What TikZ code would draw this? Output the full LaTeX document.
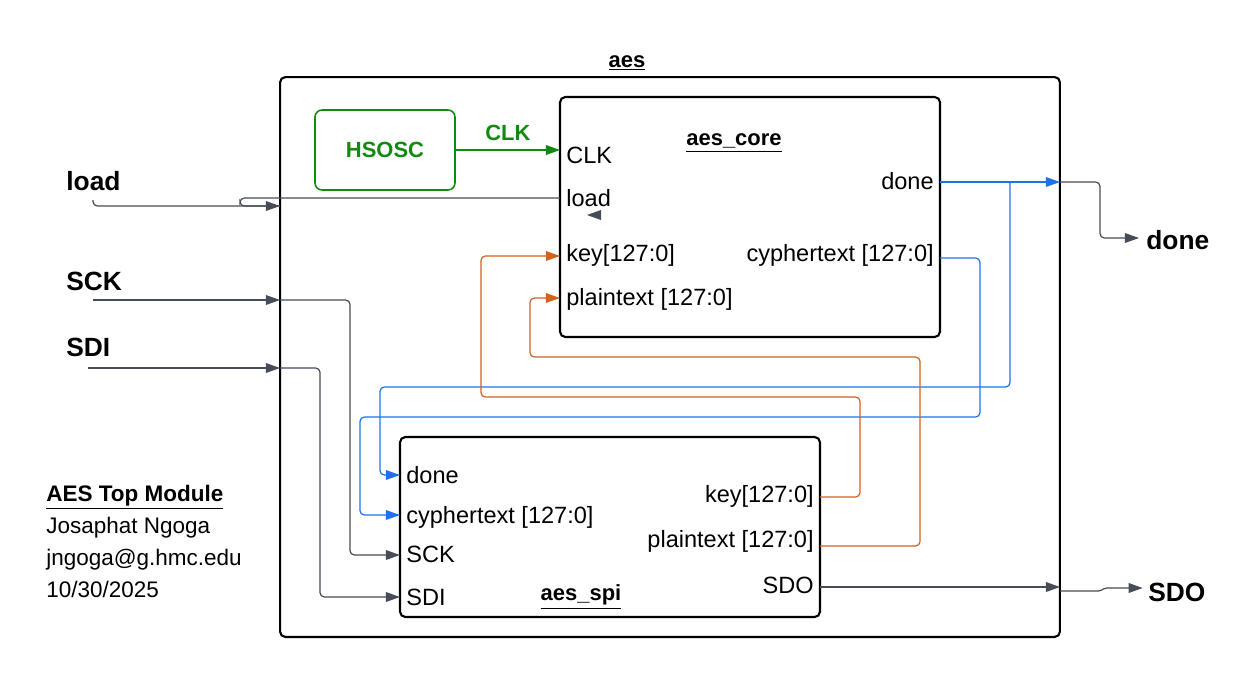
\documentclass[tikz,border=0pt]{standalone}
\usepackage{fontspec}
\setmainfont{Liberation Sans}
\usetikzlibrary{arrows.meta}

\definecolor{wiregray}{RGB}{70,76,88}
\definecolor{clkgreen}{RGB}{16,138,16}
\definecolor{busblue}{RGB}{28,115,232}
\definecolor{busorange}{RGB}{214,96,30}

\begin{document}
\begin{tikzpicture}[x=0.02cm, y=-0.02cm,
  modbox/.style={draw, line width=1.2pt, rounded corners=3pt, inner sep=0pt, outer sep=0pt},
  port/.style={font=\fontsize{13.4}{15}\selectfont, inner sep=0pt, text height=1.6ex, text depth=0.45ex},
  modname/.style={font=\fontsize{12.5}{14}\selectfont\bfseries, inner sep=0pt},
  pin/.style={font=\fontsize{15}{17}\selectfont\bfseries, inner sep=0pt, anchor=west},
  wire/.style={wiregray, line width=0.7pt, rounded corners=2.5pt},
  tip/.style={-{Triangle[length=8pt,width=5.5pt]}},
  bluebus/.style={wire, busblue},
  orangebus/.style={wire, busorange}]

\useasboundingbox (0,0) rectangle (1256,677);

%%%%%%%%%%%%%%%%%%%%%%%%%%%%%%%
% modules
\node[modbox, minimum width=15.6cm, minimum height=11.2cm] (aes) at (670,357) {};
\node[modname] (aesname) at (627,63) {\underline{aes}};

\node[modbox, minimum width=7.6cm, minimum height=4.8cm] (core) at (750,217) {};
\node[modname] (corename) at (734,143) {\underline{aes\_core}};

\node[modbox, minimum width=8.4cm, minimum height=3.6cm] (spi) at (610,527) {};
\node[modname] (spiname) at (581,597) {\underline{aes\_spi}};

\node[draw=clkgreen, line width=0.9pt, rounded corners=4pt, minimum width=2.8cm,
  minimum height=1.6cm, text=clkgreen, modname] (hsosc) at (385,150) {HSOSC};

%%%%%%%%%%%%%%%%%%%%%%%%%%%%%%%
% port labels
\node[port, anchor=west] (coreclk) at (566,158) {CLK};
\node[port, anchor=west] (coreload) at (566,201) {load};
\node[port, anchor=west] (corekey) at (566,256) {key[127:0]};
\node[port, anchor=west] (corept) at (566,300) {plaintext [127:0]};
\node[port, anchor=east] (coredone) at (934,184) {done};
\node[port, anchor=east] (corect) at (934,256) {cyphertext [127:0]};

\node[port, anchor=west] (spidone) at (406,478) {done};
\node[port, anchor=west] (spict) at (406,518) {cyphertext [127:0]};
\node[port, anchor=west] (spisck) at (406,557) {SCK};
\node[port, anchor=west] (spisdi) at (406,600) {SDI};
\node[port, anchor=east] (spikey) at (814,497) {key[127:0]};
\node[port, anchor=east] (spipt) at (814,542) {plaintext [127:0]};
\node[port, anchor=east] (spisdo) at (814,588) {SDO};

\node[pin] (load) at (66,181) {load};
\node[pin] (sck) at (66,281) {SCK};
\node[pin] (sdi) at (66,347) {SDI};
\node[pin] (done) at (1146,240) {done};
\node[pin] (sdo) at (1148,592) {SDO};

%%%%%%%%%%%%%%%%%%%%%%%%%%%%%%%
% pins on the boxes
\coordinate (core-clk) at (560,150);
\coordinate (core-load) at (560,198);
\coordinate (core-key) at (560,256);
\coordinate (core-pt) at (560,298);
\coordinate (core-done) at (940,182);
\coordinate (core-ct) at (940,258);

\coordinate (spi-done) at (400,475);
\coordinate (spi-ct) at (400,515);
\coordinate (spi-sck) at (400,555);
\coordinate (spi-sdi) at (400,597);
\coordinate (spi-key) at (820,497);
\coordinate (spi-pt) at (820,546);
\coordinate (spi-sdo) at (820,587);

\coordinate (aes-load) at (280,206);
\coordinate (aes-sck) at (280,300);
\coordinate (aes-sdi) at (280,368);
\coordinate (aes-done) at (1060,182);
\coordinate (aes-sdo) at (1060,587);

% free ends outside
\coordinate (in-load) at (93,200);
\coordinate (in-sck) at (93,300);
\coordinate (in-sdi) at (88,368);

%%%%%%%%%%%%%%%%%%%%%%%%%%%%%%%
% clock
\draw[clkgreen, line width=0.8pt, tip] (hsosc.east) -- (core-clk)
  node[midway, above=5pt, modname, text=clkgreen] {CLK};

% inputs
\draw[wire, tip] (in-load) -- (93,206) -- (aes-load);
\draw[wire] (core-load) -- (240,198) -- (240,206) -- (aes-load);
\fill[wiregray] (587,215) -- (601,210) -- (601,220) -- cycle;

\draw[wire, tip] (in-sck) -- (aes-sck);
\draw[wire, tip] (aes-sck) -- (350,300) -- (350,555) -- (spi-sck);

\draw[wire, tip] (in-sdi) -- (aes-sdi);
\draw[wire, tip] (aes-sdi) -- (320,368) -- (320,597) -- (spi-sdi);

% done
\draw[bluebus, tip] (core-done) -- (aes-done);
\draw[bluebus, tip] (1010,182) -- (1010,387) -- (380,387) -- (380,475) -- (spi-done);
\draw[wire, tip, shorten >=4pt] (aes-done) -- (1100,182) -- (1100,238) -- (done.west |- 0,238);

% cyphertext
\draw[bluebus, tip] (core-ct) -- (980,258) -- (980,417) -- (360,417) -- (360,515) -- (spi-ct);

% key, plaintext
\draw[orangebus, tip] (spi-key) -- (860,497) -- (860,397) -- (481,397) -- (481,256) -- (core-key);
\draw[orangebus, tip] (spi-pt) -- (920,546) -- (920,357) -- (530,357) -- (530,298) -- (core-pt);

% SDO
\draw[wire, tip] (spi-sdo) -- (aes-sdo);
\draw[wire, tip, rounded corners=1pt, shorten >=3pt] (1060,591) -- (1100,591) -- (1105,588) -- (sdo.west |- 0,588);

%%%%%%%%%%%%%%%%%%%%%%%%%%%%%%%
\node[anchor=north west, align=left, inner sep=0pt, font=\fontsize{12.8}{18.2}\selectfont]
  (info) at (46,485) {\textbf{\underline{AES Top Module}}\\Josaphat Ngoga\\jngoga@g.hmc.edu\\10/30/2025};

\end{tikzpicture}
\end{document}
